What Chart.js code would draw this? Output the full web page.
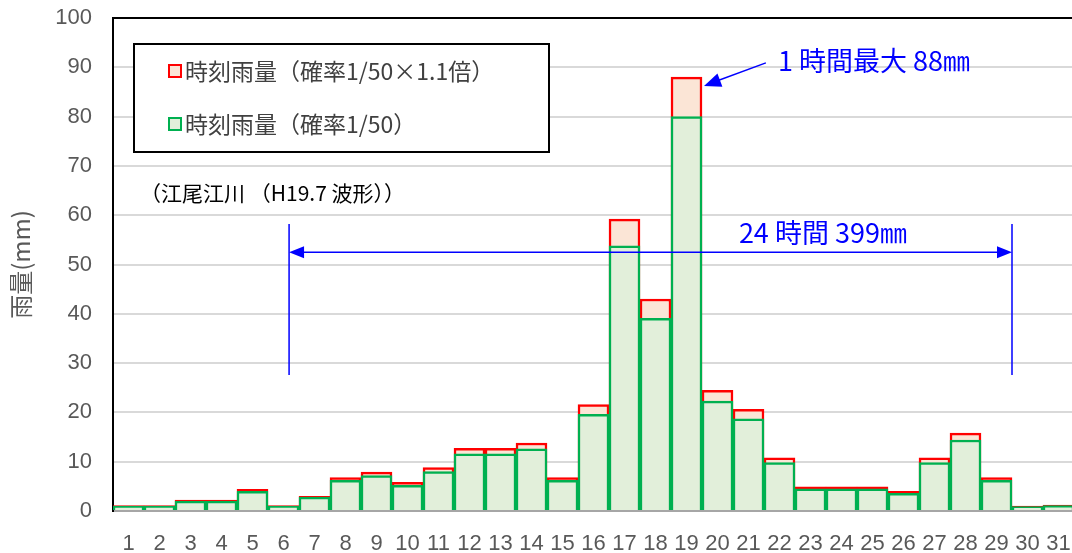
<!DOCTYPE html>
<html>
<head>
<meta charset="utf-8">
<script src="https://cdn.jsdelivr.net/npm/chart.js"></script>
<style>
  body { margin: 0; overflow: hidden; background: #fff; }
  #wrap { width: 1076px; height: 553px; }
</style>
</head>
<body>
<div id="wrap"><canvas id="rain"></canvas></div>
<script>
var hours = ["1","2","3","4","5","6","7","8","9","10","11","12","13","14","15","16",
  "17","18","19","20","21","22","23","24","25","26","27","28","29","30","31"];
// 時刻雨量(確率1/50)
var rain50 = [1.0, 1.0, 2.0, 2.0, 4.0, 1.0, 2.8, 6.2, 7.2, 5.2, 8.0, 11.6, 11.6, 12.6, 6.2, 19.6,
  53.8, 39.1, 80.0, 22.3, 18.7, 9.8, 4.5, 4.5, 4.5, 3.6, 9.8, 14.4, 6.2, 0.9, 1.1];
// 時刻雨量(確率1/50×1.1倍)
var rain55 = [1.1, 1.1, 2.2, 2.2, 4.4, 1.1, 3.0, 6.8, 7.9, 5.8, 8.8, 12.7, 12.7, 13.8, 6.8, 21.6,
  59.2, 43.0, 88.0, 24.5, 20.6, 10.8, 4.9, 4.9, 4.9, 4.0, 10.8, 15.8, 6.8, 1.0, 1.2];
var yTicks = [0, 10, 20, 30, 40, 50, 60, 70, 80, 90, 100];

var seriesNames = ["時刻雨量（確率1/50×1.1倍）", "時刻雨量（確率1/50）"];
var seriesBorder = ["#ff0000", "#00b050"];
var seriesFill = ["#fbe5d6", "#e2efda"];

var jpFont = "'Noto Sans CJK JP', sans-serif";
var numFont = "'Liberation Sans', 'Noto Sans CJK JP', sans-serif";

function arrowHead(ctx, x1, y1, x2, y2, len, half) {
  var a = Math.atan2(y2 - y1, x2 - x1);
  ctx.beginPath();
  ctx.moveTo(x2, y2);
  ctx.lineTo(x2 - len * Math.cos(a) + half * Math.sin(a), y2 - len * Math.sin(a) - half * Math.cos(a));
  ctx.lineTo(x2 - len * Math.cos(a) - half * Math.sin(a), y2 - len * Math.sin(a) + half * Math.cos(a));
  ctx.closePath();
  ctx.fill();
}

var extras = {
  id: "extras",
  afterDatasetsDraw: function (chart) {
    var ctx = chart.ctx, area = chart.chartArea;
    var xs = chart.scales.x, ys = chart.scales.y;
    ctx.save();

    // top frame line
    ctx.strokeStyle = "#000";
    ctx.lineWidth = 2;
    ctx.beginPath();
    ctx.moveTo(area.left - 1, area.top);
    ctx.lineTo(area.right + 5, area.top);
    ctx.stroke();

    // legend box
    var bx = area.left + 21, by = area.top + 26, bw = 415, bh = 108;
    ctx.fillStyle = "#fff";
    ctx.fillRect(bx, by, bw, bh);
    ctx.strokeRect(bx, by, bw, bh);
    ctx.font = "23px " + jpFont;
    ctx.textBaseline = "middle";
    ctx.textAlign = "left";
    for (var i = 0; i < 2; i++) {
      var cy = by + 27 + i * 53;
      ctx.fillStyle = seriesFill[i];
      ctx.fillRect(bx + 35, cy - 6, 12, 12);
      ctx.strokeStyle = seriesBorder[i];
      ctx.lineWidth = 2;
      ctx.strokeRect(bx + 35, cy - 6, 12, 12);
      ctx.fillStyle = "#404040";
      ctx.fillText(seriesNames[i], bx + 51, cy);
    }

    // subtitle
    ctx.fillStyle = "#000";
    ctx.font = "21px " + jpFont;
    ctx.fillText("（江尾江川 （H19.7 波形））", xs.getPixelForValue(0.63) - 8, ys.getPixelForValue(64.5));

    // 24 hour dimension
    ctx.strokeStyle = "#0000ff";
    ctx.fillStyle = "#0000ff";
    ctx.lineWidth = 1.5;
    var xl = xs.getPixelForValue(5.18), xr = xs.getPixelForValue(28.5);
    var yTop = ys.getPixelForValue(58.2), yBot = ys.getPixelForValue(27.6), yMid = ys.getPixelForValue(52.5);
    ctx.beginPath();
    ctx.moveTo(xl, yTop); ctx.lineTo(xl, yBot);
    ctx.moveTo(xr, yTop); ctx.lineTo(xr, yBot);
    ctx.moveTo(xl + 10, yMid); ctx.lineTo(xr - 10, yMid);
    ctx.stroke();
    arrowHead(ctx, xr - 20, yMid, xr, yMid, 15, 6);
    arrowHead(ctx, xl + 20, yMid, xl, yMid, 15, 6);
    ctx.font = "27px " + jpFont;
    ctx.textAlign = "center";
    ctx.fillText("24 時間 399㎜", xs.getPixelForValue(22.4), ys.getPixelForValue(56.4));

    // peak arrow
    var tx = xs.getPixelForValue(18.5) + 2, ty = ys.getPixelForValue(86.2);
    var sx = xs.getPixelForValue(20.56), sy = ys.getPixelForValue(90.9);
    ctx.beginPath();
    ctx.moveTo(sx, sy); ctx.lineTo(tx + 10, ty - 4);
    ctx.stroke();
    arrowHead(ctx, sx, sy, tx, ty, 17, 7);
    ctx.textAlign = "left";
    ctx.fillText("1 時間最大 88㎜", xs.getPixelForValue(20.95), ys.getPixelForValue(91.3));

    ctx.restore();
  }
};

new Chart("rain", {
  type: "bar",
  data: {
    labels: hours,
    datasets: [{
      label: seriesNames[0],
      data: rain55,
      backgroundColor: seriesFill[0],
      borderColor: seriesBorder[0],
      borderWidth: 2.5,
      order: 1
    }, {
      label: seriesNames[1],
      data: rain50,
      backgroundColor: seriesFill[1],
      borderColor: seriesBorder[1],
      borderWidth: 2.5,
      order: 0
    }]
  },
  options: {
    responsive: true,
    maintainAspectRatio: false,
    animation: false,
    layout: { padding: { top: 18, right: 2, left: 0, bottom: 0 } },
    datasets: { bar: { grouped: false, categoryPercentage: 1, barPercentage: 1 } },
    plugins: { legend: { display: false }, tooltip: { enabled: false } },
    scales: {
      x: {
        grid: { display: false },
        border: { color: "#a6a6a6", width: 2 },
        ticks: { color: "#595959", font: { family: numFont, size: 22 }, padding: 12, maxRotation: 0, autoSkip: false },
        afterFit: function (s) { s.height = 42; s.paddingLeft = 0; s.paddingRight = 0; }
      },
      y: {
        min: 0,
        max: 100,
        afterBuildTicks: function (s) { s.ticks = yTicks.map(function (v) { return { value: v }; }); },
        grid: { color: "#d9d9d9", lineWidth: 2, drawTicks: false },
        border: { color: "#000", width: 2 },
        ticks: { color: "#595959", font: { family: numFont, size: 22 }, padding: 21 },
        title: { display: true, text: "雨量(mm)", color: "#595959", font: { family: jpFont, size: 24 }, padding: { top: 6, bottom: 0 } },
        afterFit: function (s) { s.width = 113; s.paddingTop = 0; s.paddingBottom = 0; }
      }
    }
  },
  plugins: [extras]
});
</script>
</body>
</html>
